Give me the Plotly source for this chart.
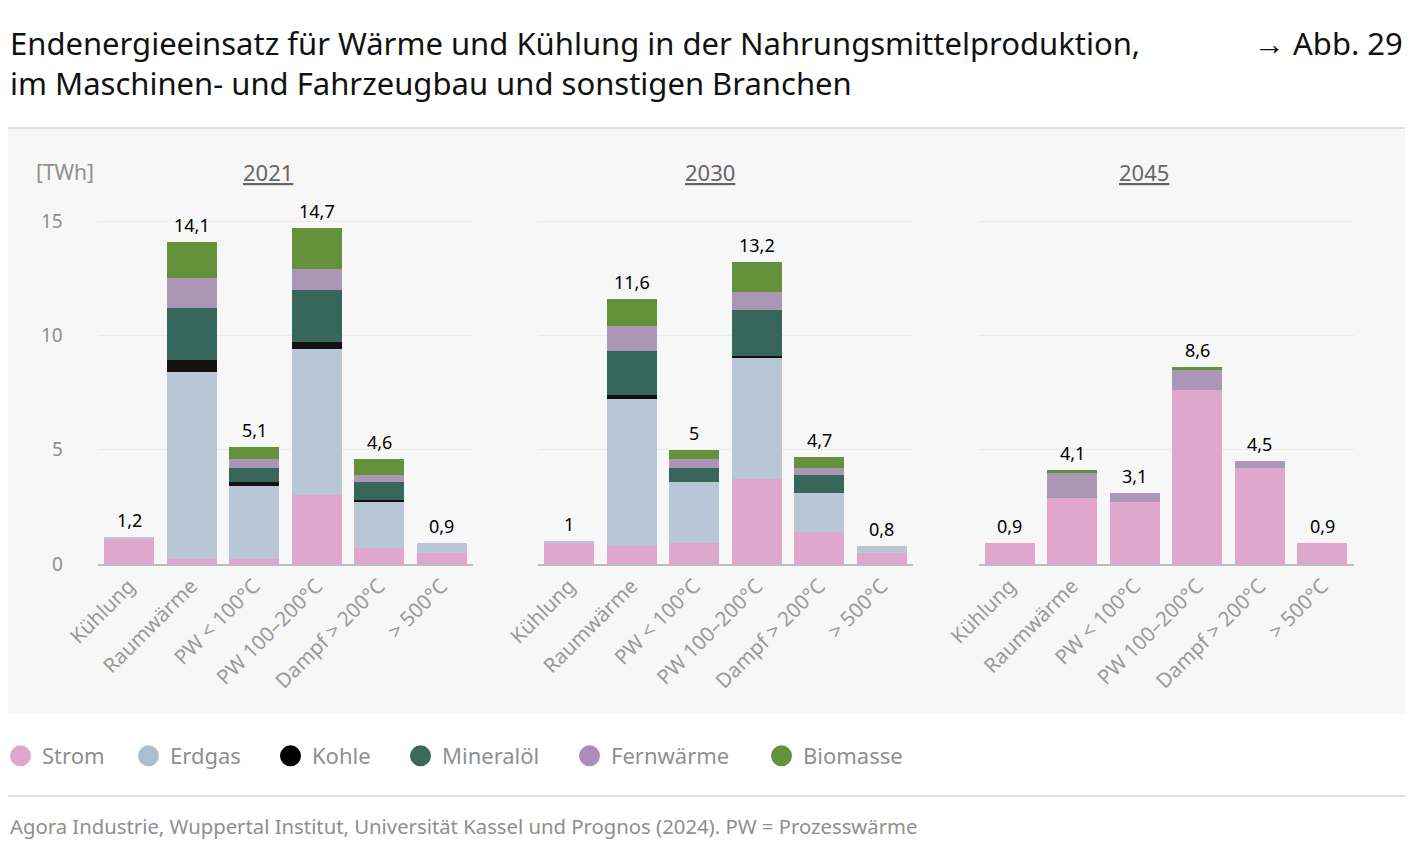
import plotly.graph_objects as go

# Kategorien und Jahre
categories = ["Kühlung", "Raumwärme", "PW < 100°C", "PW 100–200°C", "Dampf > 200°C", "> 500°C"]
years = ["2021", "2030", "2045"]

# Endenergie in TWh, je Energieträger und Jahr (Reihenfolge wie categories)
strom_2021 = [1.1, 0.2, 0.2, 3.0, 0.7, 0.5]
erdgas_2021 = [0.1, 8.2, 3.2, 6.4, 2.0, 0.4]
kohle_2021 = [0, 0.5, 0.2, 0.3, 0.1, 0]
mineraloel_2021 = [0, 2.3, 0.6, 2.3, 0.8, 0]
fernwaerme_2021 = [0, 1.3, 0.4, 0.9, 0.3, 0]
biomasse_2021 = [0, 1.6, 0.5, 1.8, 0.7, 0]

strom_2030 = [0.9, 0.8, 0.9, 3.7, 1.4, 0.5]
erdgas_2030 = [0.1, 6.4, 2.7, 5.3, 1.7, 0.3]
kohle_2030 = [0, 0.2, 0, 0.1, 0, 0]
mineraloel_2030 = [0, 1.9, 0.6, 2.0, 0.8, 0]
fernwaerme_2030 = [0, 1.1, 0.4, 0.8, 0.3, 0]
biomasse_2030 = [0, 1.2, 0.4, 1.3, 0.5, 0]

strom_2045 = [0.9, 2.9, 2.7, 7.6, 4.2, 0.9]
erdgas_2045 = [0, 0, 0, 0, 0, 0]
kohle_2045 = [0, 0, 0, 0, 0, 0]
mineraloel_2045 = [0, 0, 0, 0, 0, 0]
fernwaerme_2045 = [0, 1.1, 0.4, 0.9, 0.3, 0]
biomasse_2045 = [0, 0.1, 0, 0.1, 0, 0]

carriers = ["Strom", "Erdgas", "Kohle", "Mineralöl", "Fernwärme", "Biomasse"]
bar_colors = ["#dfa7cb", "#b9c6d6", "#141210", "#37665a", "#ab97b5", "#66913c"]
legend_colors = ["#dfa7cb", "#a9bfcf", "#000000", "#3a6a5c", "#ab8cba", "#66913c"]

data = {
    "2021": [strom_2021, erdgas_2021, kohle_2021, mineraloel_2021, fernwaerme_2021, biomasse_2021],
    "2030": [strom_2030, erdgas_2030, kohle_2030, mineraloel_2030, fernwaerme_2030, biomasse_2030],
    "2045": [strom_2045, erdgas_2045, kohle_2045, mineraloel_2045, fernwaerme_2045, biomasse_2045],
}

# die Seite hat 8px Rand, daher etwas kleiner und alles um 8px verschoben
OFF = 8
W, H = 1413 - 2 * OFF, 849 - 2 * OFF
FONT = "Noto Sans"
GRAY = "#8f8f8f"


def px_x(p):
    return (p - OFF) / W


def px_y(p):
    return 1 - (p - OFF) / H


def fmt(v):
    s = f"{v:.1f}".replace(".", ",")
    return s[:-2] if s.endswith(",0") else s


fig = go.Figure()

domains = [(97.75, 472.75), (538, 913), (978.5, 1353.5)]
ydom = [px_y(564), px_y(564 - 16 * 343 / 15)]

annotations = []
for i, year in enumerate(years):
    sfx = "" if i == 0 else str(i + 1)
    for name, vals, col in zip(carriers, data[year], bar_colors):
        fig.add_trace(go.Bar(x=categories, y=vals, name=name, marker_color=col,
                             marker_line_width=0, showlegend=False,
                             xaxis="x" + sfx, yaxis="y" + sfx))
    # Summen über den Balken
    totals = [round(sum(v), 1) for v in zip(*data[year])]
    for cat, t in zip(categories, totals):
        annotations.append(dict(x=cat, y=t, xref="x" + sfx, yref="y" + sfx, text=fmt(t),
                                showarrow=False, yanchor="bottom", yshift=3,
                                font=dict(size=18, color="#000000", family=FONT)))

# Legende: je Eintrag eine eigene Legende, damit die Abstände passen
legend_pos = [19, 147, 289, 419, 588, 780]
legends = {}
for k, (name, col, cx) in enumerate(zip(carriers, legend_colors, legend_pos)):
    key = "legend" if k == 0 else f"legend{k + 1}"
    fig.add_trace(go.Scatter(x=[None], y=[None], mode="markers", name=name, legend=key,
                             marker=dict(size=16, color=col, symbol="circle", line=dict(color=col, width=5))))
    legends[key] = dict(orientation="h", x=(cx - 20 - OFF) / W, y=px_y(756), xanchor="left",
                        yanchor="middle", itemwidth=33, font=dict(size=22, color=GRAY, family=FONT),
                        bgcolor="rgba(0,0,0,0)", itemclick=False, itemdoubleclick=False)

layout_axes = {}
for i, (a, b) in enumerate(domains):
    sfx = "" if i == 0 else str(i + 1)
    layout_axes["xaxis" + sfx] = dict(
        domain=[px_x(a), px_x(b)], anchor="y" + sfx, tickangle=-45, showline=True,
        linecolor="#bdbdbd", linewidth=2, ticks="", showgrid=False, automargin=False,
        tickfont=dict(size=20.5, color="#9a9a9a", family=FONT), fixedrange=True)
    layout_axes["yaxis" + sfx] = dict(
        domain=ydom, anchor="x" + sfx, range=[0, 16], tickvals=[0, 5, 10, 15],
        showticklabels=(i == 0), gridcolor="#ebebeb", gridwidth=1, zeroline=False, automargin=False,
        tickfont=dict(size=19, color=GRAY, family=FONT), ticklabelstandoff=34, fixedrange=True)

fig.update_layout(**layout_axes)
fig.update_layout(**legends)

paper_texts = [
    dict(text="Endenergieeinsatz für Wärme und Kühlung in der Nahrungsmittelproduktion,<br>"
              "im Maschinen- und Fahrzeugbau und sonstigen Branchen",
         x=0, y=px_y(62.5), xanchor="left", yanchor="middle", align="left",
         font=dict(size=31, color="#111111", family=FONT)),
    dict(text="→ Abb. 29", x=1, y=px_y(43), xanchor="right", yanchor="middle",
         font=dict(size=31, color="#111111", family=FONT)),
    dict(text="[TWh]", x=px_x(34), y=px_y(172), xanchor="left", yanchor="middle",
         font=dict(size=21, color=GRAY, family=FONT)),
    dict(text="Agora Industrie, Wuppertal Institut, Universität Kassel und Prognos (2024). PW = Prozesswärme",
         x=0, y=px_y(826), xanchor="left", yanchor="middle",
         font=dict(size=20.3, color=GRAY, family=FONT)),
]
for year, cx in zip(years, [268, 710, 1144]):
    paper_texts.append(dict(text=f"<u>{year}</u>", x=px_x(cx), y=px_y(172), xanchor="center",
                            yanchor="middle", font=dict(size=22, color="#666666", family=FONT)))
for a in paper_texts:
    a.update(xref="paper", yref="paper", showarrow=False)
annotations += paper_texts

shapes = [
    dict(type="rect", xref="paper", yref="paper", x0=0, x1=1, y0=px_y(714), y1=px_y(129),
         fillcolor="#f7f7f7", line_width=0, layer="below"),
    dict(type="line", xref="paper", yref="paper", x0=0, x1=1, y0=px_y(128), y1=px_y(128),
         line=dict(color="#d6d6d6", width=1.5)),
    dict(type="line", xref="paper", yref="paper", x0=0, x1=1, y0=px_y(796), y1=px_y(796),
         line=dict(color="#d6d6d6", width=1.5)),
]

fig.update_layout(
    width=W, height=H, barmode="stack", bargap=0.2,
    margin=dict(l=0, r=0, t=0, b=0, autoexpand=False),
    paper_bgcolor="#ffffff", plot_bgcolor="rgba(0,0,0,0)",
    font=dict(family=FONT),
    annotations=annotations, shapes=shapes,
    showlegend=True,
)

fig.write_html("out.html")
